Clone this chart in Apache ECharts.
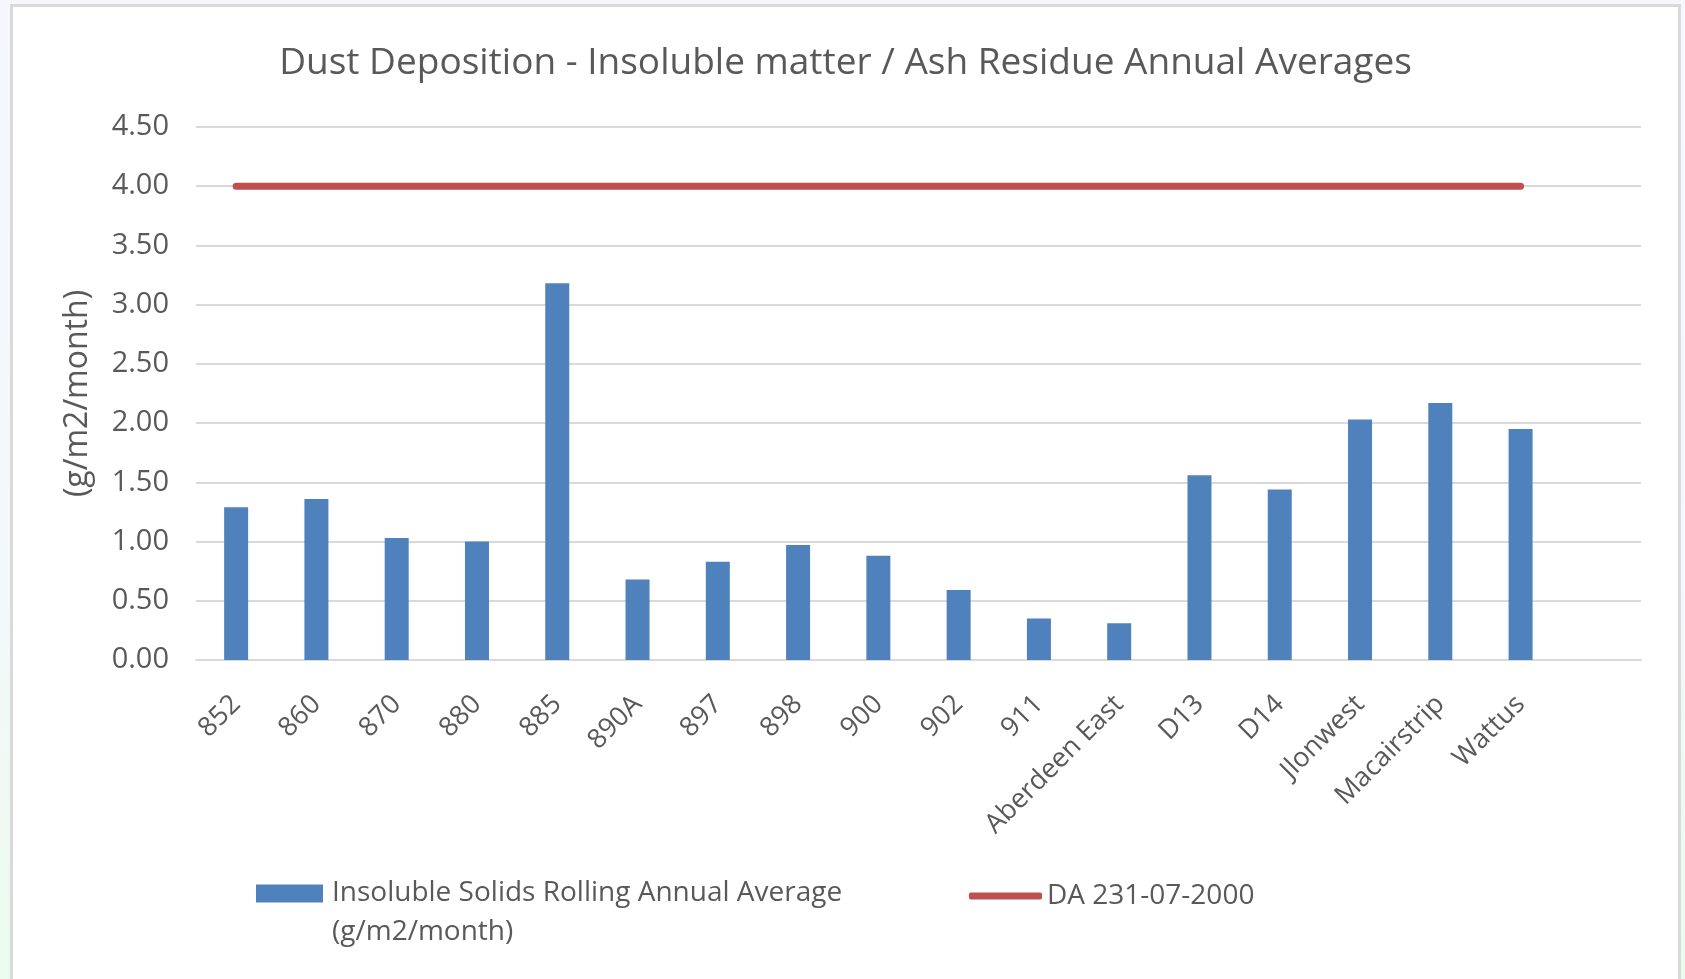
<!DOCTYPE html>
<html>
<head>
<meta charset="utf-8">
<script src="https://cdn.jsdelivr.net/npm/echarts@6/dist/echarts.min.js"></script>
<style>
  html, body { margin: 0; padding: 0; width: 1685px; height: 979px; overflow: hidden;
    background: linear-gradient(to bottom, #f5f7fd 0%, #f3f8fa 60%, #ebfbee 100%); }
  #chart { position: absolute; left: 10px; top: 4px; width: 1665px; height: 975px;
    border: 3px solid #d9d9d9; border-bottom: none; background: #ffffff; }
</style>
</head>
<body>
<div id="chart"></div>
<script>
const titleText = 'Dust Deposition - Insoluble matter / Ash Residue Annual Averages';
const categories = ['852', '860', '870', '880', '885', '890A', '897', '898', '900', '902', '911',
  'Aberdeen East', 'D13', 'D14', 'Jlonwest', 'Macairstrip', 'Wattus', ''];
const insolubleName = 'Insoluble Solids Rolling Annual Average\n(g/m2/month)';
const insolubleValues = [1.29, 1.36, 1.03, 1.00, 3.18, 0.68, 0.83, 0.97, 0.88, 0.59, 0.35,
  0.31, 1.56, 1.44, 2.03, 2.17, 1.95, null];
const limitName = 'DA 231-07-2000';
const limitValues = [4, 4, 4, 4, 4, 4, 4, 4, 4, 4, 4, 4, 4, 4, 4, 4, 4, null];
const yAxisName = '(g/m2/month)';
const yMin = 0, yMax = 4.5, yStep = 0.5;

const textColor = '#595959';
const fontFamily = '"Open Sans", "Noto Sans", sans-serif';

const chart = echarts.init(document.getElementById('chart'));
chart.setOption({
  animation: false,
  textStyle: { fontFamily: fontFamily },
  title: {
    text: titleText,
    left: 'center',
    top: 38,
    padding: 0,
    textStyle: { color: textColor, fontSize: 37, fontWeight: 'normal', fontFamily: fontFamily }
  },
  legend: [
    {
      data: [{ name: insolubleName, icon: 'rect' }],
      formatter: name => '\n' + name,
      left: 243, top: 828, itemWidth: 67, itemHeight: 18, padding: 0,
      textStyle: { color: textColor, fontSize: 28, lineHeight: 39, fontFamily: fontFamily,
        padding: [0, 0, 0, 4] }
    },
    {
      data: [{ name: limitName, icon: 'roundRect' }],
      left: 956, top: 875, itemWidth: 73, itemHeight: 7, padding: 0,
      textStyle: { color: textColor, fontSize: 28, fontFamily: fontFamily }
    }
  ],
  grid: { left: 183, top: 120, width: 1445, height: 533, containLabel: false },
  xAxis: {
    type: 'category',
    data: categories,
    boundaryGap: true,
    axisLine: { show: true, lineStyle: { color: '#d9d9d9', width: 2 } },
    axisTick: { show: false },
    axisLabel: { rotate: 45, margin: 40, color: textColor, fontSize: 27, fontFamily: fontFamily, interval: 0 }
  },
  yAxis: {
    type: 'value',
    min: yMin, max: yMax, interval: yStep,
    name: yAxisName,
    nameLocation: 'middle',
    nameRotate: 90,
    nameGap: 102,
    nameTextStyle: { color: textColor, fontSize: 32, fontFamily: fontFamily },
    axisLine: { show: false },
    axisTick: { show: false },
    splitLine: { show: true, lineStyle: { color: '#d9d9d9', width: 2 } },
    axisLabel: { color: textColor, fontSize: 29, margin: 27, fontFamily: fontFamily,
      formatter: v => v.toFixed(2) }
  },
  series: [
    {
      name: insolubleName,
      type: 'bar',
      data: insolubleValues,
      barWidth: 24,
      itemStyle: { color: '#4f81bd' }
    },
    {
      name: limitName,
      type: 'line',
      data: limitValues,
      symbol: 'none',
      lineStyle: { color: '#c0504d', width: 7, cap: 'round' },
      itemStyle: { color: '#c0504d' }
    }
  ]
});
</script>
</body>
</html>
